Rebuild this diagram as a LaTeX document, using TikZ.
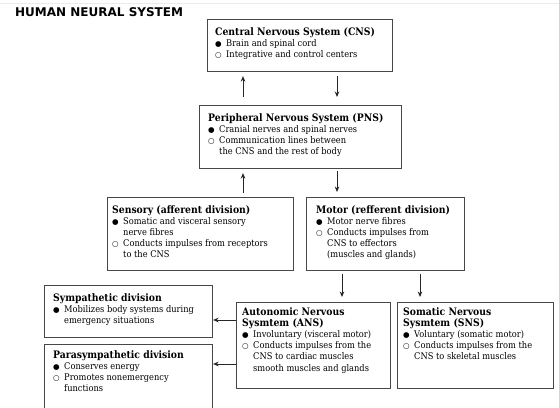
\documentclass[tikz,border=0pt]{standalone}
\usepackage{fontspec}
\setmainfont[FakeStretch=0.9]{DejaVu Serif}
\newfontfamily\symf{DejaVu Sans}
\newfontfamily\headf{DejaVu Sans}
\usetikzlibrary{arrows.meta}
\newcommand\fbul{\makebox[11pt][l]{\symf\fontsize{7.5}{7.5}\selectfont ●}}
\newcommand\obul{\makebox[11pt][l]{\symf\bfseries\fontsize{7.5}{7.5}\selectfont ○}}
\newcommand\ind{\hspace*{11pt}}
\newcommand\ttl[1]{{\bfseries\fontsize{10.3}{11.5}\selectfont #1}}
\begin{document}
\begin{tikzpicture}[x=1pt,y=-1pt,
  box/.style={draw=black!72,line width=1.1pt,inner sep=0,anchor=north west,rectangle},
  txt/.style={inner sep=0,anchor=north west,align=left,text=black,font=\fontsize{9.2}{11.2}\selectfont},
  arr/.style={draw=black!85,line width=0.9pt,-{Stealth[length=5.5pt,width=4.6pt]}}]
\clip (0,0) rectangle (559,407);
\draw[black!8,line width=0.6pt] (0,3) -- (559,3);
\node[anchor=base west,inner sep=0,font=\headf\bfseries\fontsize{12}{12}\selectfont] (title) at (15,16) {HUMAN NEURAL SYSTEM};

% boxes
\node[box,minimum width=185pt,minimum height=52pt] (cns) at (207,19) {};
\node[box,minimum width=202pt,minimum height=63pt] (pns) at (199,105) {};
\node[box,minimum width=186pt,minimum height=73pt] (sen) at (107,197) {};
\node[box,minimum width=158pt,minimum height=73pt] (mot) at (306,197) {};
\node[box,minimum width=168pt,minimum height=52pt] (sym) at (44,285) {};
\node[box,minimum width=168pt,minimum height=80pt] (par) at (44,344) {};
\node[box,minimum width=154pt,minimum height=86pt] (ans) at (236,302) {};
\node[box,minimum width=156pt,minimum height=86pt] (sns) at (397,302) {};

% texts
\node[txt] (cnst) at (215,27) {\ttl{Central Nervous System (CNS)}\\
\fbul Brain and spinal cord\\
\obul Integrative and control centers};
\node[txt] (pnst) at (208,113) {\ttl{Peripheral Nervous System (PNS)}\\
\fbul Cranial nerves and spinal nerves\\
\obul Communication lines between\\
\ind the CNS and the rest of body};
\node[txt] (sent) at (112,205) {\ttl{Sensory (afferent division)}\\
\fbul Somatic and visceral sensory\\
\ind nerve fibres\\
\obul Conducts impulses from receptors\\
\ind to the CNS};
\node[txt] (mott) at (316,205) {\ttl{Motor (refferent division)}\\
\fbul Motor nerve fibres\\
\obul Conducts impulses from\\
\ind CNS to effectors\\
\ind (muscles and glands)};
\node[txt] (symt) at (53,293) {\ttl{Sympathetic division}\\
\fbul Mobilizes body systems during\\
\ind emergency situations};
\node[txt] (part) at (53,350) {\ttl{Parasympathetic division}\\
\fbul Conserves energy\\
\obul Promotes nonemergency\\
\ind functions};
\node[txt] (anst) at (242,307) {\ttl{Autonomic Nervous}\\
\ttl{Sysmtem (ANS)}\\
\fbul Involuntary (visceral motor)\\
\obul Conducts impulses from the\\
\ind CNS to cardiac muscles\\
\ind smooth muscles and glands};
\node[txt] (snst) at (403,307) {\ttl{Somatic Nervous}\\
\ttl{Sysmtem (SNS)}\\
\fbul Voluntary (somatic motor)\\
\obul Conducts impulses from the\\
\ind CNS to skeletal muscles};

% connectors
\coordinate (u1) at ([xshift=44pt]pns.north west);
\draw[arr,shorten <=8pt,shorten >=4pt] (u1) -- (u1 |- cns.south);
\coordinate (d1) at ([xshift=130pt]cns.south west);
\draw[arr,shorten <=4pt,shorten >=8pt] (d1) -- (d1 |- pns.north);
\coordinate (u2) at ([xshift=136pt]sen.north west);
\draw[arr,shorten <=4pt,shorten >=4pt] (u2) -- (u2 |- pns.south);
\coordinate (d2) at ([xshift=138pt]pns.south west);
\draw[arr,shorten <=2pt,shorten >=5pt] (d2) -- (d2 |- mot.north);
\coordinate (d3) at ([xshift=36pt]mot.south west);
\draw[arr,shorten <=3pt,shorten >=5pt] (d3) -- (d3 |- ans.north);
\coordinate (d4) at ([xshift=114pt]mot.south west);
\draw[arr,shorten <=3pt,shorten >=5pt] (d4) -- (d4 |- sns.north);
\coordinate (h1) at ([yshift=-18pt]ans.north west);
\draw[arr] (h1) -- (h1 -| sym.east);
\coordinate (h2) at ([yshift=-62pt]ans.north west);
\draw[arr] (h2) -- (h2 -| par.east);
\end{tikzpicture}
\end{document}
